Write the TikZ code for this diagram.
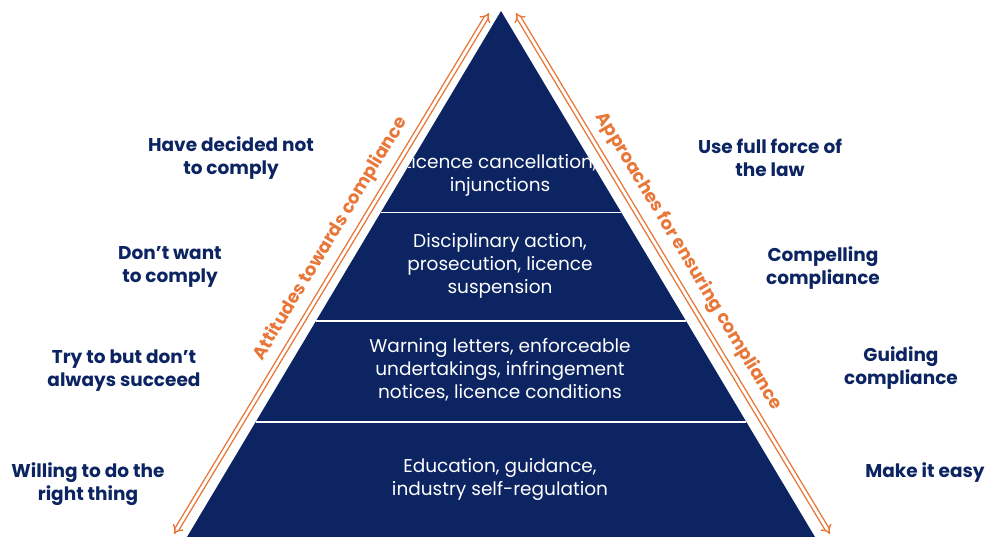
\documentclass[tikz,border=0pt]{standalone}
\usepackage{fontspec}
\setmainfont{Poppins}
\usetikzlibrary{arrows.meta,calc}
\definecolor{navy}{HTML}{0C2461}
\definecolor{vicorange}{HTML}{E8773A}

\tikzset{
  sidetxt/.style={font=\fontsize{18.5}{23}\selectfont\bfseries, text=navy, align=center},
  layertxt/.style={font=\fontsize{18.5}{23}\selectfont, text=white, align=center},
  edgetxt/.style={font=\fontsize{18}{18}\selectfont\bfseries, text=vicorange},
  dblarrow/.style={draw=vicorange, double=white, double distance=2.8pt, line width=1.4pt, {Implies}-{Implies}},
  divider/.style={draw=white, line width=1.6pt}
}

\begin{document}
\begin{tikzpicture}[x=1pt, y=-1pt]
\useasboundingbox (0,0) rectangle (987,537);

% pyramid
\coordinate (apex) at (501,11);
\coordinate (bl) at (187,537);
\coordinate (br) at (815,537);
\fill[navy] (apex) -- (bl) -- (br) -- cycle;

\coordinate (l1) at ($(apex)!0.383!(bl)$);
\coordinate (r1) at ($(apex)!0.383!(br)$);
\coordinate (l2) at ($(apex)!0.589!(bl)$);
\coordinate (r2) at ($(apex)!0.589!(br)$);
\coordinate (l3) at ($(apex)!0.781!(bl)$);
\coordinate (r3) at ($(apex)!0.781!(br)$);
\draw[divider] (l1) -- (r1);
\draw[divider] (l2) -- (r2);
\draw[divider] (l3) -- (r3);

\begin{scope}
\clip (apex) -- (bl) -- (br) -- cycle;
\node at (500,175) [layertxt] (layer1) {Licence cancellation,\\injunctions};
\node at (500,266) [layertxt] (layer2) {Disciplinary action,\\prosecution, licence\\suspension};
\node at (500,370) [layertxt] (layer3) {Warning letters, enforceable\\undertakings, infringement\\notices, licence conditions};
\node at (500,479) [layertxt] (layer4) {Education, guidance,\\industry self-regulation};
\end{scope}

% orange arrows
\coordinate (attbot) at (174,534);
\coordinate (atttop) at (489,13);
\coordinate (apptop) at (516,13);
\coordinate (appbot) at (830,534);
\draw[dblarrow] (attbot) -- node[pos=0.548, sloped, above=5pt, edgetxt] (attlabel) {Attitudes towards compliance} (atttop);
\draw[dblarrow] (apptop) -- node[pos=0.496, sloped, above=6pt, edgetxt] (applabel) {Approaches for ensuring compliance} (appbot);

% attitudes
\node at (231,158) [sidetxt] (att1) {Have decided not\\to comply};
\node at (170,267) [sidetxt] (att2) {Don’t want\\to comply};
\node at (124,371) [sidetxt] (att3) {Try to but don’t\\always succeed};
\node at (88,484) [sidetxt] (att4) {Willing to do the\\right thing};

% approaches
\node at (770,158) [sidetxt] (app1) {Use full force of\\the law};
\node at (823,268) [sidetxt] (app2) {Compelling\\compliance};
\node at (901,368) [sidetxt] (app3) {Guiding\\compliance};
\node at (925,473) [sidetxt] (app4) {Make it easy};
\end{tikzpicture}
\end{document}
